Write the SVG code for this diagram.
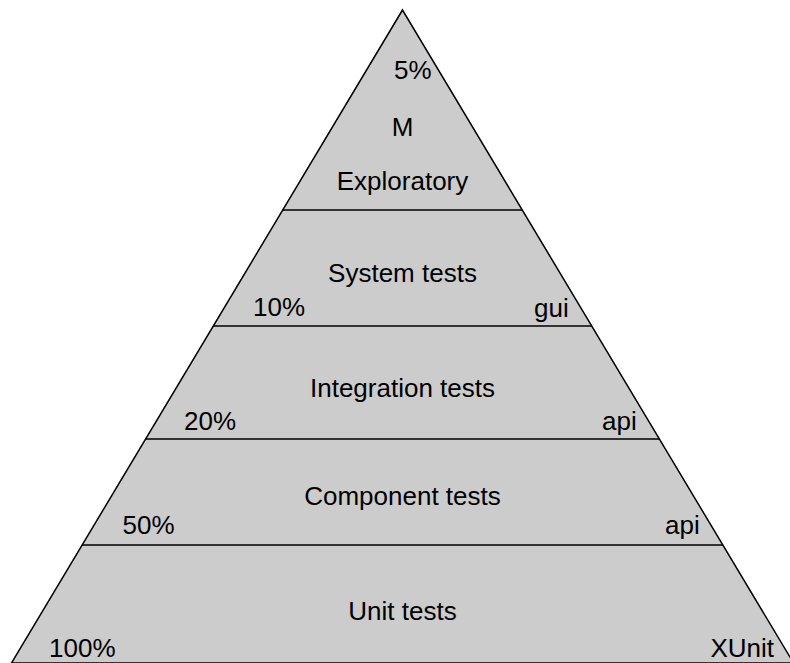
<svg xmlns="http://www.w3.org/2000/svg" width="790" height="663" viewBox="0 0 790 663">
  <style>
    .t { font-family: "Liberation Sans", Arial, Helvetica, sans-serif; font-size: 26px; fill: #000; }
    .c { text-anchor: middle; }
    .ln { stroke: #000; stroke-width: 1.5; fill: none; }
  </style>
  <rect width="790" height="663" fill="#ffffff"/>
  <g id="pyramid">
    <polygon points="402.5,10 11.5,663 793.5,663" fill="#cccccc" stroke="#000" stroke-width="1.5" stroke-linejoin="miter"/>
  </g>
  <g id="connectors">
    <line class="ln" x1="282.7" y1="210" x2="522.3" y2="210"/>
    <line class="ln" x1="213.2" y1="326" x2="591.8" y2="326"/>
    <line class="ln" x1="145.5" y1="439" x2="659.5" y2="439"/>
    <line class="ln" x1="82" y1="545" x2="723" y2="545"/>
  </g>
  <g id="exploratory">
    <text class="t" x="394" y="79">5%</text>
    <text class="t c" x="402.5" y="136">M</text>
    <text class="t c" x="402.5" y="190">Exploratory</text>
  </g>
  <g id="system">
    <text class="t c" x="402.5" y="282">System tests</text>
    <text class="t" x="253" y="316">10%</text>
    <text class="t" x="534" y="317">gui</text>
  </g>
  <g id="integration">
    <text class="t c" x="402.5" y="397">Integration tests</text>
    <text class="t" x="184" y="430">20%</text>
    <text class="t" x="602" y="430">api</text>
  </g>
  <g id="component">
    <text class="t c" x="402.5" y="505">Component tests</text>
    <text class="t" x="122.5" y="534">50%</text>
    <text class="t" x="665" y="534">api</text>
  </g>
  <g id="unit">
    <text class="t c" x="402.5" y="620">Unit tests</text>
    <text class="t" x="49" y="657">100%</text>
    <text class="t" x="710.5" y="657">XUnit</text>
  </g>
</svg>
